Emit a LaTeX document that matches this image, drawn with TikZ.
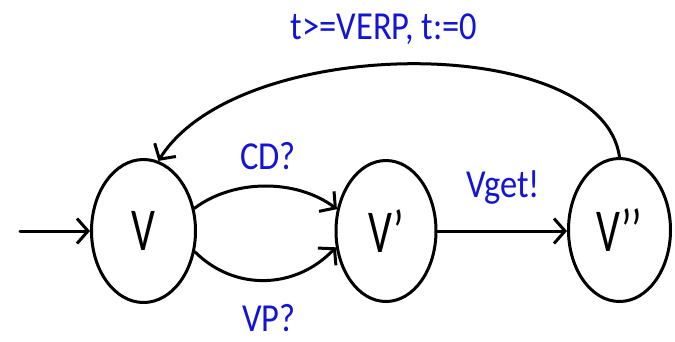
\documentclass[tikz,border=0pt]{standalone}
\usepackage{fontspec}
\setmainfont{Carlito}
\usetikzlibrary{shapes.geometric,arrows.meta}
\definecolor{lblblue}{RGB}{20,20,215}
\newcommand{\statetext}[1]{\scalebox{1}[1.45]{\fontsize{42}{42}\selectfont #1}}
\newcommand{\edgetext}[1]{\scalebox{1}[1.15]{\fontsize{34.5}{34.5}\selectfont #1}}
\begin{document}
\begin{tikzpicture}[x=1pt,y=-1pt,
    >={Straight Barb[length=11pt,width=25pt]},
    every path/.style={line width=3pt,line cap=round,line join=round},
    locstate/.style={ellipse,draw,line width=3pt,inner sep=0pt},
    guard/.style={text=lblblue,inner sep=0pt,anchor=center}]
  \useasboundingbox (0,0) rectangle (675,341);

  % locations
  \node[locstate,minimum width=104pt,minimum height=143pt] (v)  at (143.5,231) {\statetext{V}};
  \node[locstate,minimum width=100pt,minimum height=141pt] (v1) at (386,231)   {\statetext{V’}};
  \node[locstate,minimum width=102pt,minimum height=143pt] (v2) at (619.5,230) {\statetext{V’’}};

  % initial location marker
  \coordinate (init) at (20,231);
  \draw[->] (init) -- (v.west);

  % V -> V'
  \draw[->] (v.24) .. controls +(40,-30) and +(-40,-30) .. (v1.156);
  \draw[->] (v.-22) .. controls +(40,40) and +(-40,42) .. (v1.-162);

  % V' -> V''
  \draw[->] (v1.east) -- (v2.west |- v1.east);

  % V'' -> V (reset)
  \draw[->] (v2.north) .. controls +(-17,-125) and +(80,-128) .. (v.78);

  % edge labels
  \node[guard] (lcd)  at (268,156)   {\edgetext{CD?}};
  \node[guard] (lvp)  at (269,318)   {\edgetext{VP?}};
  \node[guard] (lvg)  at (503,188)   {\edgetext{Vget!}};
  \node[guard] (lrst) at (384,29)    {\edgetext{t>=VERP, t:=0}};
\end{tikzpicture}
\end{document}
